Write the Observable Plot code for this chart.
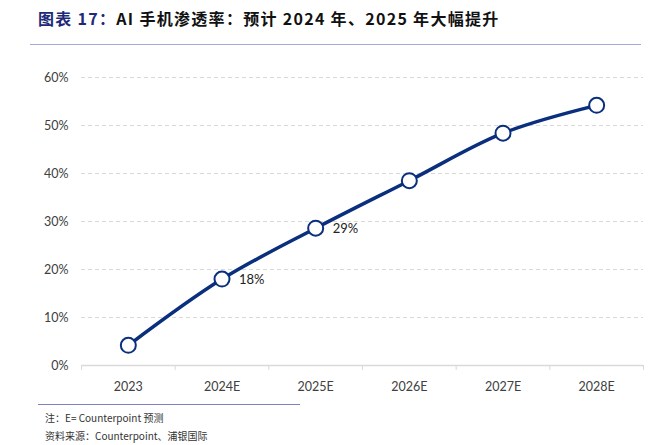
<!DOCTYPE html>
<html>
<head>
<meta charset="utf-8">
<script src="https://cdn.jsdelivr.net/npm/d3@7"></script>
<script src="https://cdn.jsdelivr.net/npm/@observablehq/plot@0.6"></script>
<style>
  html, body { margin: 0; padding: 0; background: #fff; }
  #wrap { position: relative; width: 671px; height: 445px; overflow: hidden; font-family: "Noto Sans CJK SC", "Noto Sans", sans-serif; }
  #title { position: absolute; left: 38px; top: 6px; font-size: 16px; font-weight: bold; color: #111; white-space: nowrap; letter-spacing: 1.3px; }
  #title .num { color: #1c2a78; }
  #rule1 { position: absolute; left: 30px; top: 44px; width: 611px; height: 0; border-top: 1.5px solid #a8a8d8; }
  #chart { position: absolute; left: 0; top: 50px; }
  #rule2 { position: absolute; left: 38px; top: 404px; width: 262px; height: 0; border-top: 1px solid #7f82c0; }
  .foot { position: absolute; left: 45px; font-size: 10px; color: #333; white-space: nowrap; }
</style>
</head>
<body>
<div id="wrap">
  <div id="title"><span class="num">图表 17：</span>AI 手机渗透率：预计 2024 年、2025 年大幅提升</div>
  <div id="rule1"></div>
  <div id="chart"></div>
  <div id="rule2"></div>
  <div class="foot" style="top:410px">注：E= Counterpoint 预测</div>
  <div class="foot" style="top:428px">资料来源：Counterpoint、浦银国际</div>
</div>
<script>
const categories = ["2023", "2024E", "2025E", "2026E", "2027E", "2028E"];
const penetration = [0.042, 0.18, 0.286, 0.385, 0.484, 0.542];
const pointLabels = ["", "18%", "29%", "", "", ""];
const yTicks = [0, 0.1, 0.2, 0.3, 0.4, 0.5, 0.6];

const data = categories.map((c, i) => ({i, cat: c, v: penetration[i], label: pointLabels[i]}));
const boundaries = d3.range(categories.length + 1).map(k => k - 0.5);
const navy = "#0a2f7d";

const chart = Plot.plot({
  width: 671,
  height: 345,
  marginTop: 27,
  marginBottom: 30,
  marginLeft: 81,
  marginRight: 28,
  style: {fontFamily: "Lato, 'Open Sans', sans-serif", fontSize: "12.5px", color: "#404040", background: "#fff"},
  x: {type: "linear", domain: [-0.5, categories.length - 0.5]},
  y: {domain: [0, 0.6]},
  marks: [
    Plot.gridY(yTicks.filter(t => t > 0), {stroke: "#d9d9d9", strokeOpacity: 1, strokeDasharray: "4,3"}),
    Plot.ruleY([0], {stroke: "#d9d9d9", strokeWidth: 1.5}),
    Plot.axisY(yTicks, {tickSize: 0, tickPadding: 13, tickFormat: d3.format(".0%"), label: null, fill: "#404040"}),
    Plot.axisX(boundaries, {tickSize: 5, stroke: "#d9d9d9", tickFormat: () => "", label: null}),
    Plot.axisX(d3.range(categories.length), {tickSize: 0, tickPadding: 17, tickFormat: i => categories[i], label: null, fill: "#404040"}),
    Plot.line(data, {x: "i", y: "v", stroke: navy, strokeWidth: 3.5, curve: "catmull-rom"}),
    Plot.dot(data, {x: "i", y: "v", r: 7.5, fill: "#fff", stroke: navy, strokeWidth: 2}),
    Plot.text(data, {x: "i", y: "v", text: "label", dx: 17, dy: 1, textAnchor: "start", fill: "#222", fontSize: 13})
  ]
});
document.getElementById("chart").appendChild(chart);
</script>
</body>
</html>
